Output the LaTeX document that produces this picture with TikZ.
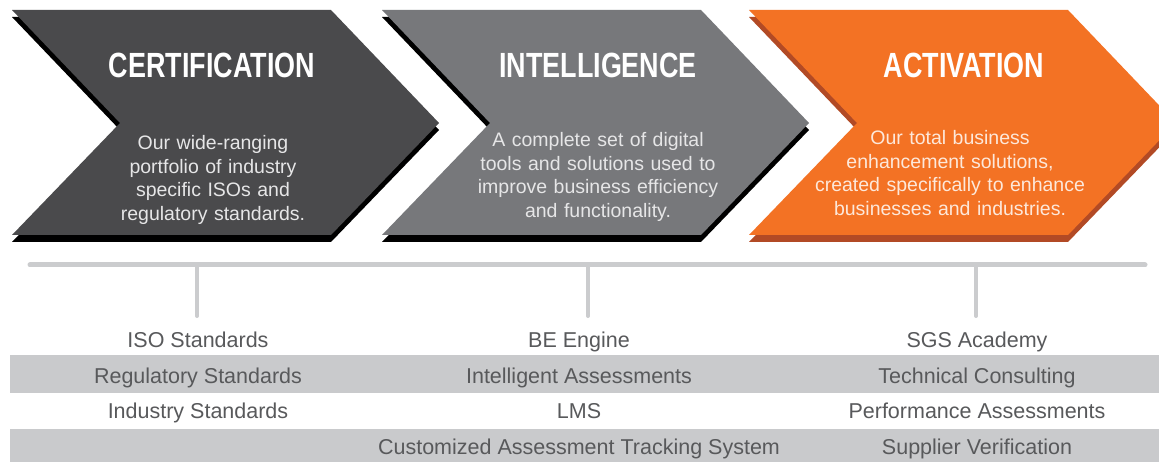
\documentclass[tikz,border=0pt]{standalone}
\usepackage{fontspec}
\setmainfont{Liberation Sans}
\newfontfamily\titlefont[FakeStretch=0.77]{Liberation Sans}
\definecolor{chevA}{HTML}{4A4A4C}
\definecolor{chevB}{HTML}{77787B}
\definecolor{chevC}{HTML}{F37224}
\definecolor{shadC}{HTML}{B24A25}
\definecolor{bandgray}{HTML}{C9CACC}
\definecolor{linegray}{HTML}{CBCCCE}
\definecolor{tabtext}{HTML}{58595B}
\definecolor{bodygray}{HTML}{E6E6E7}
\definecolor{bodyorange}{HTML}{FDE8DA}
\tikzset{
  chevtitle/.style={anchor=base, inner sep=0pt, text=white, font=\titlefont\bfseries\fontsize{35}{40}\selectfont},
  chevbody/.style={anchor=base, inner sep=0pt, text width=280pt, align=center, font=\fontsize{19.5}{23.5}\selectfont},
  tabcell/.style={anchor=base, inner sep=0pt, text=tabtext, font=\fontsize{21.5}{24}\selectfont},
  rail/.style={draw=linegray, line width=5pt, line cap=round},
  tick/.style={draw=linegray, line width=4pt, line cap=round},
}
\newcommand{\chevpath}[1]{(#1,10) -- ++(319,0) -- ++(108,113) -- ++(-108,112) -- ++(-319,0) -- ++(108,-112) -- cycle}
\begin{document}
\begin{tikzpicture}[x=1pt,y=-1pt]
\useasboundingbox (0,0) rectangle (1159,462);
\fill[white] (0,0) rectangle (1159,462);
% bands
\fill[bandgray] (10,355) rectangle (1159,392.5);
\fill[bandgray] (10,429) rectangle (1159,462);
% chevrons: shadow then face
\fill[black, yshift=-7pt] \chevpath{12};
\fill[chevA] \chevpath{12};
\fill[black, yshift=-7pt] \chevpath{382};
\fill[chevB] \chevpath{382};
\fill[shadC, yshift=-7pt] \chevpath{749};
\fill[chevC] \chevpath{749};
% titles
\node[chevtitle] (t1) at (212,78) {CERTIFICATION};
\node[chevtitle] (t2) at (598,78) {INTELLIGENCE};
\node[chevtitle] (t3) at (964,78) {ACTIVATION};
% bodies
\node[chevbody, text=bodygray] (b1) at (213,150) {Our wide-ranging\\portfolio of industry\\specific ISOs and\\regulatory standards.};
\node[chevbody, text=bodygray] (b2) at (598,147) {A complete set of digital\\tools and solutions used to\\improve business efficiency\\and functionality.};
\node[chevbody, text=bodyorange] (b3) at (950,145) {Our total business\\enhancement solutions,\\created specifically to enhance\\businesses and industries.};
% rail and ticks
\coordinate (rl) at (30,265);
\coordinate (rr) at (1145,265);
\coordinate (k1) at (197,265);
\coordinate (k2) at (588,265);
\coordinate (k3) at (976,265);
\coordinate (e1) at (197,316);
\coordinate (e2) at (588,316);
\coordinate (e3) at (976,316);
\draw[rail] (rl) -- (rr);
\draw[tick] (k1) -- (e1);
\draw[tick] (k2) -- (e2);
\draw[tick] (k3) -- (e3);
% table column 1
\node[tabcell] (a1) at (198,347) {ISO Standards};
\node[tabcell] (a2) at (198,383) {Regulatory Standards};
\node[tabcell] (a3) at (198,418) {Industry Standards};
% column 2
\node[tabcell] (c1) at (579,347) {BE Engine};
\node[tabcell] (c2) at (579,383) {Intelligent Assessments};
\node[tabcell] (c3) at (579,418) {LMS};
\node[tabcell] (c4) at (579,454) {Customized Assessment Tracking System};
% column 3
\node[tabcell] (d1) at (977,347) {SGS Academy};
\node[tabcell] (d2) at (977,383) {Technical Consulting};
\node[tabcell] (d3) at (977,418) {Performance Assessments};
\node[tabcell] (d4) at (977,454) {Supplier Verification};
\end{tikzpicture}
\end{document}
